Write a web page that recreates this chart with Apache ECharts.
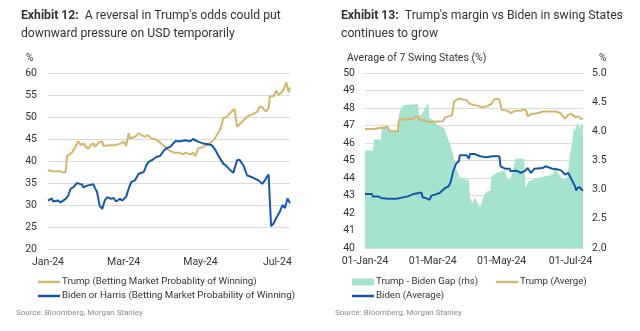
<!DOCTYPE html>
<html><head><meta charset="utf-8">
<script src="https://cdn.jsdelivr.net/npm/echarts@6/dist/echarts.min.js"></script>
<style>html,body{margin:0;padding:0;background:#fff}#c{width:640px;height:331px}</style>
</head><body><div id="c"></div>
<script>
// ---- Data (x = days since 01-Jan-2024) ----
const leftTrumpDays = [0,5,9,12,14,15,19,21,24,26,28,30,32,34,36,37,39,41,43,44,48,53,58,60,62,64,65,69,72,74,77,79,82,86,88,93,96,100,104,107,109,113,115,117,119,123,127,130,132,134,137,139,142,144,148,150,154,158,162,166,168,170,173,175,176,179,181,183,187,189,191,192];
const leftTrumpValues = [37.9,37.6,37.7,37.4,37.5,41.1,41.9,42.8,44.5,43.6,44.0,43.2,42.8,43.6,44.0,43.2,43.8,44.4,44.4,43.4,43.6,43.6,44.0,44.4,43.4,46.3,45.1,45.5,46.3,45.9,45.5,45.9,45.1,44.9,44.4,43.2,42.4,41.9,41.9,41.5,41.9,41.5,41.9,41.1,42.8,43.2,43.7,44.4,45.0,45.9,47.4,49.7,50.1,50.8,51.8,47.8,48.9,50.1,50.6,51.2,52.4,52.2,51.2,52.0,54.7,54.7,56.0,55.0,56.2,57.9,55.6,56.7];
const leftBidenDays = [0,3,4,8,10,14,16,18,20,23,25,27,28,31,36,37,39,41,43,45,47,50,52,54,57,59,62,64,66,69,72,73,76,78,80,81,84,86,89,92,94,97,101,105,109,113,115,119,123,127,130,133,135,139,141,144,147,148,150,152,155,158,162,164,167,170,172,175,176,177,179,181,184,186,188,189,190,192];
const leftBidenValues = [31.0,31.5,30.8,31.0,30.6,31.4,32.1,33.7,34.0,35.0,34.8,34.7,34.0,34.4,34.7,34.0,32.9,29.8,29.1,31.0,31.8,31.4,31.6,30.8,31.4,31.0,31.9,33.7,35.2,35.6,37.1,36.7,37.5,39.0,39.8,39.4,40.5,40.9,41.2,42.4,42.9,43.2,44.5,44.5,44.7,44.5,45.0,44.4,44.0,43.8,43.6,42.4,41.3,39.4,39.0,38.1,37.3,37.1,40.2,40.3,39.0,36.7,36.3,36.0,35.6,34.8,35.6,36.9,36.9,25.2,25.8,27.0,28.5,30.0,29.3,28.9,31.5,30.4];

const rightTrumpDays = [0,7,8,20,22,29,30,43,44,47,49,52,55,69,71,74,77,79,83,87,90,93,98,104,108,112,114,117,119,121,126,129,133,138,141,143,144,147,154,157,169,173,177,180,183,186,189,191,193];
const rightTrumpValues = [46.8,46.8,46.91,46.91,46.67,46.67,47.33,47.39,47.52,47.52,47.28,47.33,47.2,47.24,47.47,47.52,47.58,48.38,48.53,48.48,48.45,48.23,48.15,48.04,48.1,48.23,48.48,48.53,48.48,47.9,47.85,47.71,47.85,47.85,47.94,47.8,47.52,47.66,47.71,47.8,47.8,47.71,47.39,47.62,47.66,47.47,47.52,47.39,47.39];
const rightBidenDays = [0,6,7,12,14,20,28,29,38,43,48,50,51,55,57,59,62,66,71,74,76,78,81,83,84,90,92,93,97,102,107,113,119,120,124,128,129,134,138,142,144,147,150,157,160,166,171,174,177,180,183,186,187,188,190,192,193];
const rightBidenValues = [43.09,43.09,42.95,42.95,42.86,42.82,42.82,42.91,42.95,43.09,43.14,43.18,42.9,42.82,42.75,43.0,43.05,43.14,43.43,43.52,43.81,44.38,44.86,44.95,45.3,45.3,45.1,45.37,45.37,45.24,45.18,45.24,45.24,44.67,44.53,44.53,44.38,44.42,44.29,44.42,44.57,44.29,44.53,44.57,44.67,44.53,44.48,44.42,44.19,44.29,43.9,43.52,43.28,43.43,43.47,43.33,43.28];
const gapDays = [0,7,8,14,15,21,22,29,30,32,35,42,47,48,51,53,56,57,60,62,64,70,72,75,78,81,84,86,90,92,93,95,97,99,102,103,105,108,111,112,117,120,124,126,129,131,133,141,142,145,148,154,160,166,169,170,173,176,179,181,184,185,186,188,190,191,193];
const gapValues = [3.67,3.67,3.86,3.86,4.06,4.06,4.0,4.0,4.29,4.41,4.45,4.46,4.47,4.26,4.31,4.4,4.49,4.23,4.2,4.17,4.11,4.06,3.94,3.8,3.6,3.35,3.2,3.2,3.17,3.17,2.86,2.77,2.86,2.8,2.71,2.74,2.89,2.97,2.98,3.23,3.29,3.31,3.33,3.17,3.2,3.31,3.53,3.53,3.03,3.14,3.17,3.2,3.23,3.26,3.4,3.31,3.23,3.17,3.2,3.54,3.89,4.11,4.0,4.17,4.03,4.11,4.13];

const tickDays = [0,60,121,182];
const leftTickLabels = ['Jan-24','Mar-24','May-24','Jul-24'];
const rightTickLabels = ['01-Jan-24','01-Mar-24','01-May-24','01-Jul-24'];

// ---- helpers ----
const DAY = 86400000;
const T0 = Date.UTC(2024,0,1);
function toTime(d){ return T0 + d*DAY; }
function pairs(days, vals){ return days.map((d,i)=>[toTime(d), vals[i]]); }
const tickTimes = tickDays.map(toTime);
function labelFor(labels){ return function(v){ const i = tickTimes.findIndex(t => Math.abs(t - v) < DAY/2); return i>=0 ? labels[i] : ''; }; }

const FONT = 'Roboto, "Liberation Sans", sans-serif';
const GOLD = '#D4B56C', BLUE = '#1457A8', TEAL = '#A6E3CE', GRID = '#DADADA', TXT = '#333';
const names = {
  lt: 'Trump (Betting Market Probablity of Winning)',
  lb: 'Biden or Harris (Betting Market Probability of Winning)',
  gap: 'Trump - Biden Gap (rhs)',
  rt: 'Trump (Averge)',
  rb: 'Biden (Average)'
};
const axLabel = {fontSize: 10.5, color: TXT, fontFamily: FONT};
const legText = {fontSize: 9.7, color: TXT, fontFamily: FONT, padding: [0,0,0,-3]};
function lineLegend(left, top, name){
  return {left: left, top: top, itemWidth: 22, itemHeight: 2.5, icon: 'rect', textStyle: legText, data: [name]};
}

const chart = echarts.init(document.getElementById('c'), null, {renderer:'canvas'});
chart.setOption({
  animation: false,
  textStyle: {fontFamily: FONT},
  title: [
    {left: 16, top: 2, text: '{b|Exhibit 12:}  A reversal in Trump\'s odds could put\ndownward pressure on USD temporarily',
     textStyle: {fontSize: 12.2, fontWeight: 'normal', color: TXT, lineHeight: 18, fontFamily: FONT,
       rich: {b: {fontSize: 12.2, fontWeight: 'bold', color: TXT, fontFamily: FONT, lineHeight: 18}}}},
    {left: 336, top: 2, text: '{b|Exhibit 13:}  Trump\'s margin vs Biden in swing States\ncontinues to grow',
     textStyle: {fontSize: 12.2, fontWeight: 'normal', color: TXT, lineHeight: 18, fontFamily: FONT,
       rich: {b: {fontSize: 12.2, fontWeight: 'bold', color: TXT, fontFamily: FONT, lineHeight: 18}}}}
  ],
  graphic: [
    {type:'text', x: 26, y: 58, style:{text:'%', fill: TXT, font: '10px ' + FONT, verticalAlign:'middle'}},
    {type:'text', x: 347, y: 58, style:{text:'Average of 7 Swing States (%)', fill: TXT, font: '10.5px ' + FONT, verticalAlign:'middle'}},
    {type:'text', x: 599, y: 58, style:{text:'%', fill: TXT, font: '10px ' + FONT, verticalAlign:'middle'}},
    {type:'text', x: 16, y: 313, style:{text:'Source: Bloomberg, Morgan Stanley', fill: '#8a8a8a', font: '8px ' + FONT, verticalAlign:'middle'}},
    {type:'text', x: 335, y: 313, style:{text:'Source: Bloomberg, Morgan Stanley', fill: '#8a8a8a', font: '8px ' + FONT, verticalAlign:'middle'}}
  ],
  legend: [
    lineLegend(33, 272, names.lt),
    lineLegend(33, 286, names.lb),
    {left: 347, top: 272, itemWidth: 22, itemHeight: 7, icon: 'rect', textStyle: legText, data: [names.gap]},
    lineLegend(491, 272, names.rt),
    lineLegend(347, 286, names.rb)
  ],
  grid: [
    {left: 48, top: 73, width: 242, height: 176},
    {left: 365, top: 73, width: 218, height: 175}
  ],
  xAxis: [
    {type:'value', gridIndex:0, min: toTime(0), max: toTime(192),
     axisLine:{show:false}, axisTick:{show:false}, splitLine:{show:false},
     axisLabel: Object.assign({margin: 8, customValues: tickTimes, formatter: labelFor(leftTickLabels), hideOverlap:false}, axLabel)},
    {type:'value', gridIndex:1, min: toTime(0), max: toTime(193),
     axisLine:{show:false}, axisTick:{show:false}, splitLine:{show:false},
     axisLabel: Object.assign({margin: 8, customValues: tickTimes, formatter: labelFor(rightTickLabels), hideOverlap:false}, axLabel)}
  ],
  yAxis: [
    {type:'value', gridIndex:0, min:20, max:60, interval:5,
     axisLine:{show:false}, axisTick:{show:false},
     splitLine:{lineStyle:{color:GRID, width:1}}, axisLabel: Object.assign({margin: 11}, axLabel)},
    {type:'value', gridIndex:1, min:40, max:50, interval:1,
     axisLine:{show:false}, axisTick:{show:false},
     splitLine:{lineStyle:{color:GRID, width:1}}, axisLabel: Object.assign({margin: 10}, axLabel)},
    {type:'value', gridIndex:1, position:'right', min:2, max:5, interval:0.5,
     axisLine:{show:false}, axisTick:{show:false}, splitLine:{show:false},
     axisLabel: Object.assign({margin: 9, formatter: v => v.toFixed(1)}, axLabel)}
  ],
  series: [
    {name: names.lt, type:'line', xAxisIndex:0, yAxisIndex:0, symbol:'none', color: GOLD,
     lineStyle:{width:2, color: GOLD}, data: pairs(leftTrumpDays, leftTrumpValues)},
    {name: names.lb, type:'line', xAxisIndex:0, yAxisIndex:0, symbol:'none', color: BLUE,
     lineStyle:{width:2, color: BLUE}, data: pairs(leftBidenDays, leftBidenValues)},
    {name: names.gap, type:'line', xAxisIndex:1, yAxisIndex:2, symbol:'none', color: TEAL, z: 1,
     lineStyle:{width:0}, areaStyle:{color: TEAL, opacity:1, origin:'start'}, data: pairs(gapDays, gapValues)},
    {name: names.rt, type:'line', xAxisIndex:1, yAxisIndex:1, symbol:'none', color: GOLD, z: 3,
     lineStyle:{width:2, color: GOLD}, data: pairs(rightTrumpDays, rightTrumpValues)},
    {name: names.rb, type:'line', xAxisIndex:1, yAxisIndex:1, symbol:'none', color: BLUE, z: 3,
     lineStyle:{width:2, color: BLUE}, data: pairs(rightBidenDays, rightBidenValues)}
  ]
});
</script>
</body></html>
